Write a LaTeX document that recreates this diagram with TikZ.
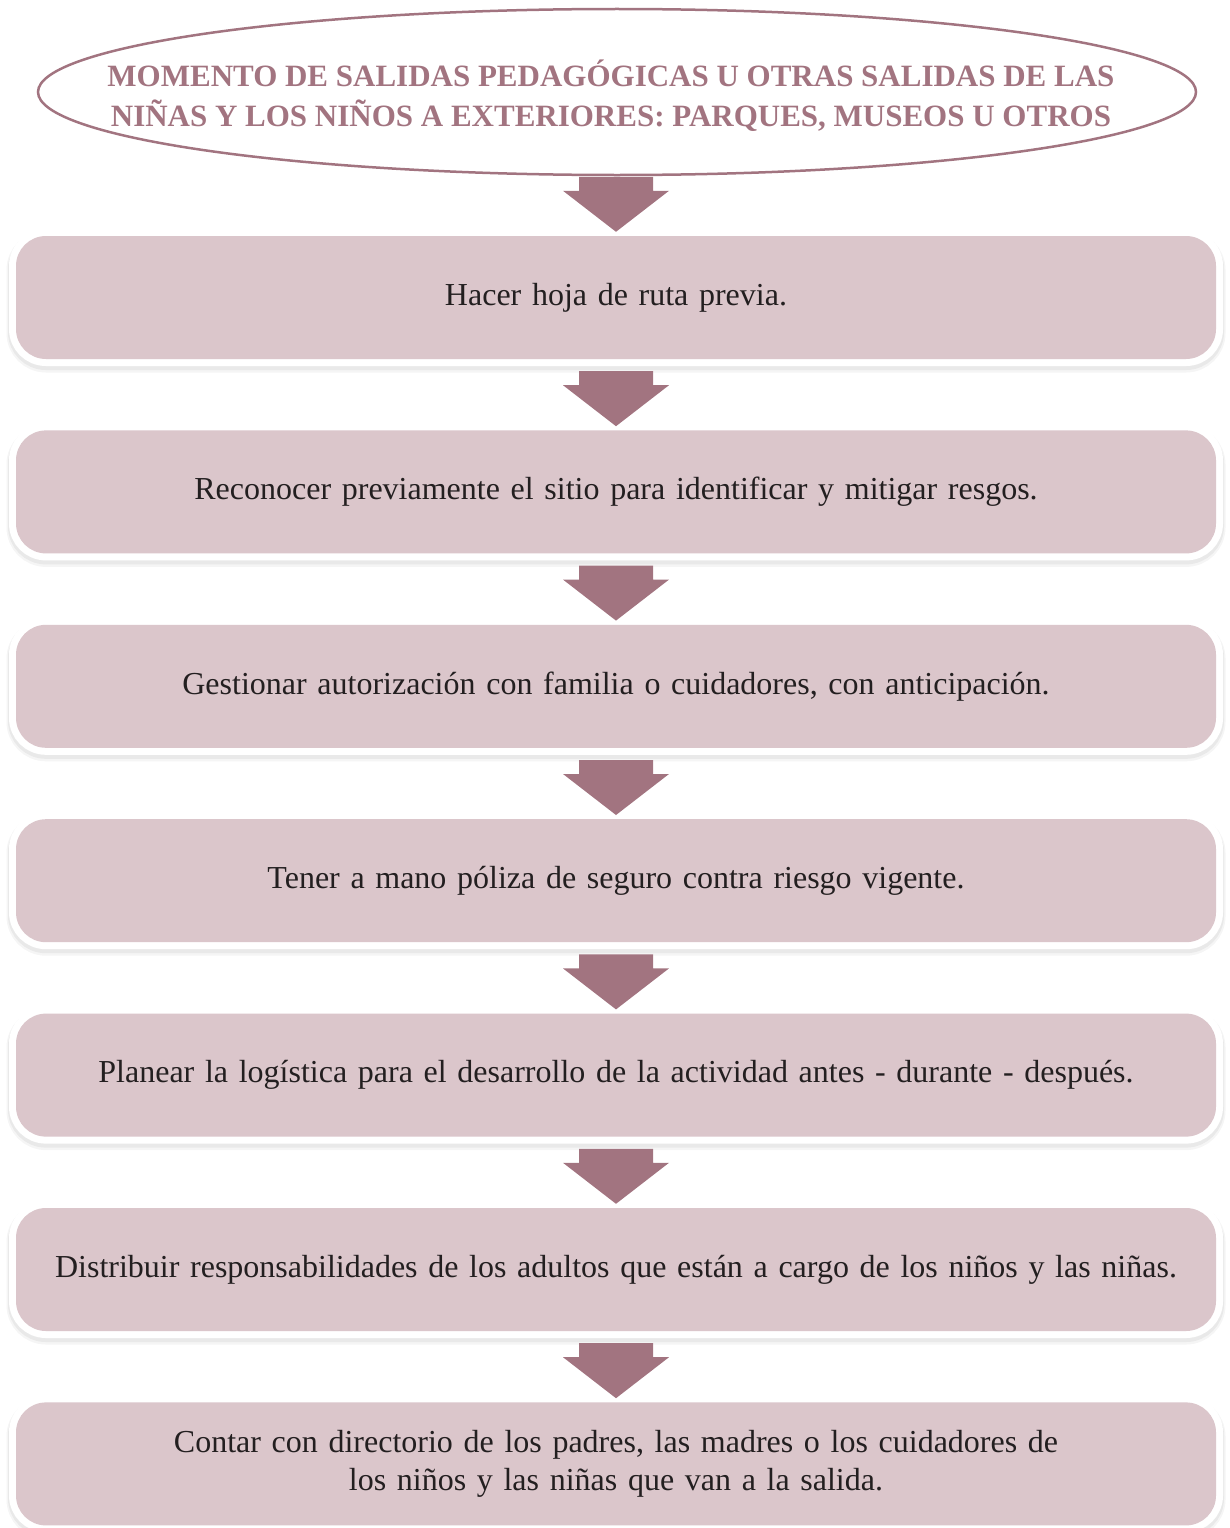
\documentclass[tikz,border=0pt]{standalone}
\usepackage{fontspec}
\setmainfont{Liberation Serif}
\usetikzlibrary{positioning,calc}
\definecolor{mauve}{HTML}{A27480}
\definecolor{boxpink}{HTML}{DBC6CB}
\definecolor{ink}{HTML}{231F20}
\tikzset{stepbox/.style={rounded corners=30pt, fill=boxpink, text=ink,
    minimum width=1200pt, minimum height=123pt, text width=1190pt, align=center,
    font=\fontsize{32}{38.5}\selectfont, inner sep=0pt,
    %soft shadow, then the white rim
    preaction={draw=black, opacity=0.04, line width=19pt, transform canvas={yshift=-4pt}},
    preaction={draw=black, opacity=0.05, line width=16pt, transform canvas={yshift=-3pt}},
    preaction={draw=white, line width=14pt}},
titletext/.style={text=mauve, inner sep=0pt, align=center,
    font=\bfseries\fontsize{31}{40}\selectfont}}

\begin{document}
\begin{tikzpicture}[x=1pt, y=1pt, node distance=71pt]
    \useasboundingbox (0,0) rectangle (1229,-1528);

    \node[titletext] (title) at (611,-96)
        {MOMENTO DE SALIDAS PEDAGÓGICAS U OTRAS SALIDAS DE LAS\\
         NIÑAS Y LOS NIÑOS A EXTERIORES: PARQUES, MUSEOS U OTROS};
    \draw[mauve, line width=2.5pt] (617,-92) ellipse (579 and 83);
    \coordinate (titlebottom) at (617,-175);

    \node[stepbox] (s1) at (616,-297.5) {Hacer hoja de ruta previa.};
    \node[stepbox, below=of s1] (s2) {Reconocer previamente el sitio para identificar y mitigar resgos.};
    \node[stepbox, below=of s2] (s3) {Gestionar autorización con familia o cuidadores, con anticipación.};
    \node[stepbox, below=of s3] (s4) {Tener a mano póliza de seguro contra riesgo vigente.};
    \node[stepbox, below=of s4] (s5) {Planear la logística para el desarrollo de la actividad antes - durante - después.};
    \node[stepbox, below=of s5] (s6) {Distribuir responsabilidades de los adultos que están a cargo de los niños y las niñas.};
    \node[stepbox, below=of s6] (s7) {Contar con directorio de los padres, las madres o los cuidadores de\\
        los niños y las niñas que van a la salida.};

    % block arrows between the steps
    \foreach \a/\b in {titlebottom/s1,s1/s2,s2/s3,s3/s4,s4/s5,s5/s6,s6/s7}
    \fill[mauve] ($(\b.north)+(0,4)$) coordinate (tip)
        -- ($(tip)+(53,41)$) -- ($(tip)+(37,41)$) -- ($(tip)+(37,55)$)
        -- ($(tip)+(-37,55)$) -- ($(tip)+(-37,41)$) -- ($(tip)+(-53,41)$) -- cycle;

\end{tikzpicture}
\end{document}
